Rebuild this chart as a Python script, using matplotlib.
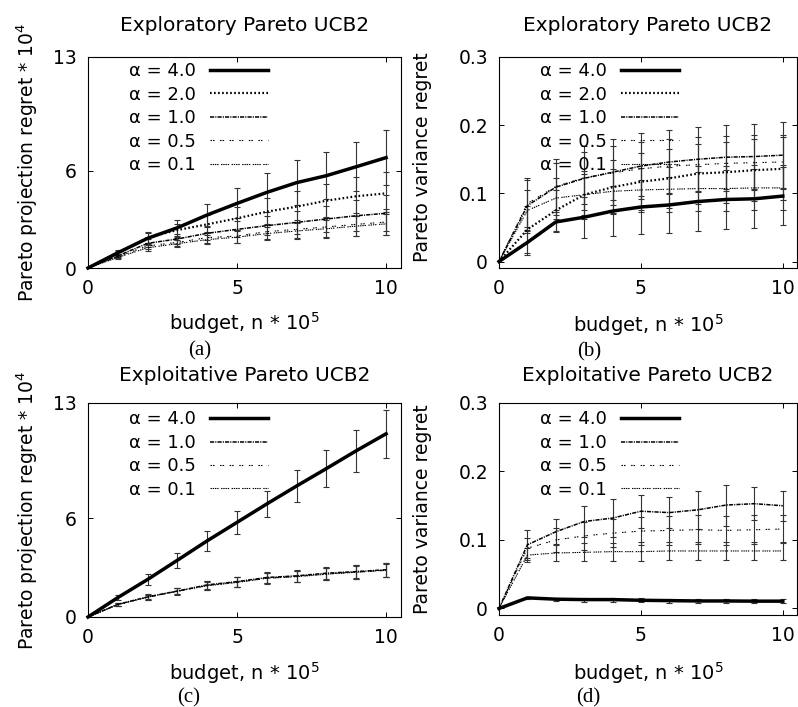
import matplotlib
matplotlib.use('Agg')
import matplotlib.pyplot as plt

plt.rcParams['font.family'] = ['DejaVu Sans']
plt.rcParams['mathtext.fontset'] = 'dejavusans'
plt.rcParams['lines.scale_dashes'] = False

# ── data ─────────────────────────────────────────────────────────────────────
budget = [0, 1, 2, 3, 4, 5, 6, 7, 8, 9, 10]

# (a) exploratory, projection regret
a_40 = [0, 0.94, 1.83, 2.48, 3.27, 3.98, 4.66, 5.26, 5.69, 6.24, 6.80]
a_40_err = [0, 0.15, 0.37, 0.50, 0.70, 0.93, 1.20, 1.40, 1.44, 1.50, 1.70]
a_20 = [0, 0.90, 1.87, 2.34, 2.69, 3.06, 3.47, 3.78, 4.15, 4.42, 4.60]
a_20_err = [0, 0.12, 0.30, 0.40, 0.55, 0.70, 0.85, 0.95, 1.05, 1.20, 1.30]
a_10 = [0, 0.75, 1.52, 1.79, 2.14, 2.38, 2.61, 2.81, 3.02, 3.22, 3.37]
a_10_err = [0, 0.10, 0.25, 0.30, 0.40, 0.50, 0.60, 0.70, 0.80, 0.95, 1.10]
a_05 = [0, 0.70, 1.36, 1.58, 1.87, 1.97, 2.24, 2.38, 2.53, 2.69, 2.83]
a_05_err = [0, 0.08, 0.20, 0.25, 0.32, 0.40, 0.48, 0.55, 0.62, 0.70, 0.80]
a_01 = [0, 0.65, 1.25, 1.50, 1.75, 1.90, 2.12, 2.28, 2.42, 2.58, 2.72]
a_01_err = [0, 0.08, 0.18, 0.22, 0.30, 0.36, 0.42, 0.50, 0.56, 0.62, 0.70]

# (b) exploratory, variance regret
b_40 = [0, 0.028, 0.058, 0.065, 0.074, 0.080, 0.083, 0.088, 0.091, 0.092, 0.096]
b_40_err = [0, 0.018, 0.014, 0.030, 0.037, 0.040, 0.041, 0.043, 0.043, 0.043, 0.043]
b_20 = [0, 0.047, 0.075, 0.098, 0.109, 0.117, 0.122, 0.129, 0.131, 0.134, 0.136]
b_20_err = [0, 0.035, 0.030, 0.035, 0.040, 0.042, 0.043, 0.044, 0.045, 0.045, 0.046]
b_10 = [0, 0.082, 0.109, 0.122, 0.131, 0.140, 0.146, 0.150, 0.153, 0.154, 0.156]
b_10_err = [0, 0.040, 0.041, 0.047, 0.048, 0.048, 0.047, 0.047, 0.047, 0.047, 0.048]
b_05 = [0, 0.085, 0.110, 0.123, 0.130, 0.136, 0.140, 0.142, 0.144, 0.145, 0.146]
b_05_err = [0, 0.035, 0.035, 0.038, 0.040, 0.040, 0.040, 0.040, 0.040, 0.040, 0.040]
b_01 = [0, 0.075, 0.093, 0.098, 0.103, 0.105, 0.106, 0.107, 0.107, 0.108, 0.108]
b_01_err = [0, 0.030, 0.030, 0.030, 0.032, 0.032, 0.033, 0.033, 0.033, 0.033, 0.033]

# (c) exploitative, projection regret
c_40 = [0, 1.18, 2.28, 3.45, 4.63, 5.75, 6.87, 7.96, 9.02, 10.10, 11.13]
c_40_err = [0, 0.15, 0.35, 0.45, 0.60, 0.70, 0.80, 0.95, 1.14, 1.28, 1.45]
c_10 = [0, 0.77, 1.22, 1.58, 1.95, 2.15, 2.40, 2.50, 2.66, 2.76, 2.87]
c_05 = [0, 0.76, 1.20, 1.56, 1.92, 2.12, 2.36, 2.47, 2.62, 2.73, 2.83]
c_01 = [0, 0.75, 1.21, 1.57, 1.90, 2.10, 2.35, 2.45, 2.60, 2.72, 2.85]
c_low_err = [0, 0.08, 0.15, 0.20, 0.25, 0.30, 0.32, 0.35, 0.38, 0.40, 0.42]

# (d) exploitative, variance regret
d_40 = [0, 0.0155, 0.0136, 0.013, 0.013, 0.012, 0.0115, 0.011, 0.011, 0.0107, 0.0107]
d_40_err = [0, 0.002, 0.002, 0.003, 0.003, 0.003, 0.003, 0.003, 0.003, 0.003, 0.003]
d_10 = [0, 0.093, 0.112, 0.127, 0.132, 0.142, 0.140, 0.144, 0.151, 0.153, 0.150]
d_10_err = [0, 0.022, 0.018, 0.023, 0.028, 0.024, 0.023, 0.028, 0.030, 0.024, 0.022]
d_05 = [0, 0.088, 0.100, 0.106, 0.110, 0.113, 0.114, 0.115, 0.114, 0.115, 0.116]
d_05_err = [0, 0.015, 0.018, 0.020, 0.020, 0.020, 0.021, 0.021, 0.021, 0.021, 0.021]
d_01 = [0, 0.078, 0.081, 0.082, 0.083, 0.083, 0.084, 0.084, 0.084, 0.084, 0.084]
d_01_err = [0, 0.010, 0.012, 0.013, 0.013, 0.014, 0.013, 0.013, 0.013, 0.013, 0.013]

# ── line styles per alpha ────────────────────────────────────────────────────
STYLE = {
    '4.0': dict(lw=2.5, ls='-'),
    '2.0': dict(lw=1.6, ls=(0, (1.2, 1.7))),
    '1.0': dict(lw=1.1, ls=(0, (3.0, 0.8, 0.8, 0.8))),
    '0.5': dict(lw=0.8, ls=(0, (1.1, 0.7, 1.1, 4.0))),
    '0.1': dict(lw=0.8, ls=(0, (1.0, 0.6, 1.0, 0.6, 1.0, 0.6, 1.0, 1.8))),
}

W, H = 798, 707
fig = plt.figure(figsize=(W / 100, H / 100), dpi=100)
fig.patch.set_facecolor('white')


def px_rect(l, t, r, b):
    return [l / W, 1 - b / H, (r - l) / W, (b - t) / H]


def draw_panel(rect, series, ylim, yticks, yticklabels, leg_anchor):
    ax = fig.add_axes(px_rect(*rect))
    for key, y, err in series:
        st = STYLE[key]
        ax.errorbar(budget[1:], y[1:], yerr=err[1:], fmt='none',
                    ecolor='#333333', elinewidth=0.8, capsize=2.2,
                    capthick=0.8, zorder=2)
        ax.plot(budget, y, color='black', lw=st['lw'], ls=st['ls'],
                label='\u03b1 = ' + key, zorder=3, clip_on=False)
    ax.set_xlim(0, 10.5)
    ax.set_ylim(*ylim)
    ax.set_xticks([0, 5, 10])
    ax.set_yticks(yticks)
    ax.set_yticklabels(yticklabels)
    ax.tick_params(direction='in', top=True, right=True, length=3.5,
                   width=0.7, labelsize=13.5)
    ax.tick_params(axis='x', pad=8)
    ax.tick_params(axis='y', pad=8)
    for s in ax.spines.values():
        s.set_linewidth(0.8)
    ax.legend(loc='upper right', bbox_to_anchor=leg_anchor, frameon=False,
              markerfirst=False, fontsize=13, handlelength=3.2,
              handletextpad=0.8, labelspacing=0.3, borderpad=0,
              borderaxespad=0)
    return ax


draw_panel((88, 57, 401, 268),
           [('4.0', a_40, a_40_err), ('2.0', a_20, a_20_err),
            ('1.0', a_10, a_10_err), ('0.5', a_05, a_05_err),
            ('0.1', a_01, a_01_err)],
           (0, 13), [0, 6, 13], ['0', '6', '13'], (0.575, 0.975))

draw_panel((499, 57, 797, 268),
           [('4.0', b_40, b_40_err), ('2.0', b_20, b_20_err),
            ('1.0', b_10, b_10_err), ('0.5', b_05, b_05_err),
            ('0.1', b_01, b_01_err)],
           (-0.0095, 0.3), [0, 0.1, 0.2, 0.3], ['0', '0.1', '0.2', '0.3'],
           (0.604, 0.975))

draw_panel((88, 403, 401, 617),
           [('4.0', c_40, c_40_err), ('1.0', c_10, c_low_err),
            ('0.5', c_05, c_low_err), ('0.1', c_01, c_low_err)],
           (0, 13), [0, 6, 13], ['0', '6', '13'], (0.575, 0.965))

draw_panel((499, 403, 797, 615),
           [('4.0', d_40, d_40_err), ('1.0', d_10, d_10_err),
            ('0.5', d_05, d_05_err), ('0.1', d_01, d_01_err)],
           (-0.0095, 0.3), [0, 0.1, 0.2, 0.3], ['0', '0.1', '0.2', '0.3'],
           (0.604, 0.965))


def ftext(x, y, s, **kw):
    fig.text(x / W, 1 - y / H, s, **kw)


# titles
tkw = dict(ha='center', va='baseline', fontsize=14.5)
ftext(244.5, 31, 'Exploratory Pareto UCB2', **tkw)
ftext(648, 31, 'Exploratory Pareto UCB2', **tkw)
ftext(244.5, 381, 'Exploitative Pareto UCB2', **tkw)
ftext(648, 381, 'Exploitative Pareto UCB2', **tkw)

# y labels
proj = r'Pareto projection regret * 10$^{4}$'
ykw = dict(rotation=90, ha='center', va='center', fontsize=13.5)
ftext(27, 162, proj, **ykw)
ftext(27, 510, proj, **ykw)
ftext(423, 157, 'Pareto variance regret', **ykw)
ftext(423, 509, 'Pareto variance regret', **ykw)

# x labels
xl = r'budget, n * 10$^{5}$'
xkw = dict(ha='center', va='baseline', fontsize=14)
ftext(244.5, 330, xl, **xkw)
ftext(648, 332, xl, **xkw)
ftext(244.5, 680, xl, **xkw)
ftext(648, 680, xl, **xkw)

# sub-figure letters
serif = dict(ha='center', va='center', fontsize=15, family='Liberation Serif')
ftext(200, 351, '(a)', **serif)
ftext(589, 352, '(b)', **serif)
ftext(189, 698, '(c)', **serif)
ftext(588, 698, '(d)', **serif)

fig.savefig('out.png', dpi=100, facecolor='white')
